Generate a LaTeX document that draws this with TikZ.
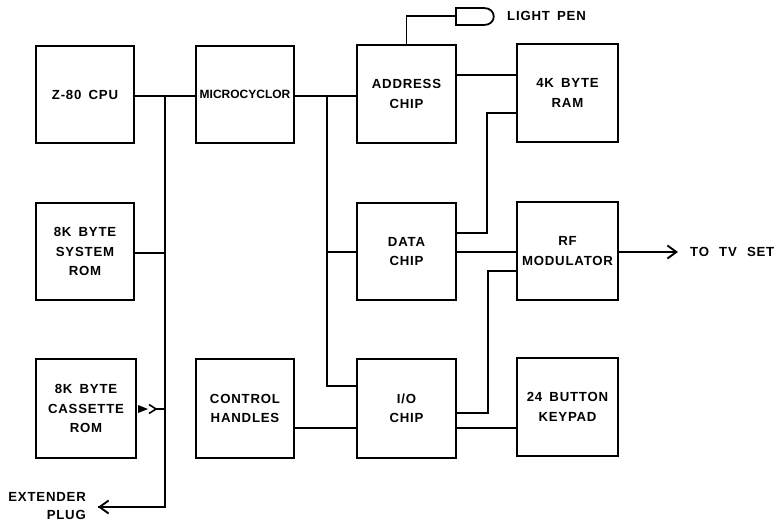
\documentclass[tikz,border=0pt]{standalone}
\usepackage{fontspec}
\setmainfont{Liberation Sans}[LetterSpace=6,WordSpace=1.6]
\newfontfamily\tightfont{Liberation Sans}
\usetikzlibrary{arrows.meta,calc}
\tikzset{
  blk/.style={draw,line width=1.9pt,minimum width=#1,inner sep=0pt,align=center,font=\fontsize{13.2}{19.5}\selectfont\bfseries},
  wire/.style={line width=1.8pt,line join=miter},
  lbl/.style={inner sep=0pt,align=center,font=\fontsize{13.2}{19.5}\selectfont\bfseries},
  openarrow/.style={-{Straight Barb[length=9pt,width=13pt,line width=1.9pt]}}
}
\newcommand{\blkat}[6]{\node[blk=#4,minimum height=#5] (#1) at (#2,#3) {#6};}
\begin{document}
\begin{tikzpicture}[x=1pt,y=-1pt]
\useasboundingbox (0,0) rectangle (778,523);
\blkat{cpu}{85}{94.5}{98pt}{97pt}{Z-80 CPU}
\blkat{sysrom}{85}{251.5}{98pt}{97pt}{8K BYTE\\SYSTEM\\ROM}
\blkat{casrom}{86}{408.5}{100pt}{99pt}{8K BYTE\\CASSETTE\\ROM}
\blkat{micro}{245}{94.5}{98pt}{97pt}{{\tightfont\fontsize{12}{20}\selectfont\bfseries MICROCYCLOR}}
\blkat{handles}{245}{408.5}{98pt}{99pt}{CONTROL\\HANDLES}
\blkat{addr}{406.5}{94}{99pt}{98pt}{ADDRESS\\CHIP}
\blkat{data}{406.5}{251.5}{99pt}{97pt}{DATA\\CHIP}
\blkat{io}{406.5}{408.5}{99pt}{99pt}{I/O\\CHIP}
\blkat{ram}{567.5}{93}{101pt}{98pt}{4K BYTE\\RAM}
\blkat{rf}{567.5}{251}{101pt}{98pt}{RF\\MODULATOR}
\blkat{keypad}{567.5}{407}{101pt}{98pt}{24 BUTTON\\KEYPAD}
\node[lbl,anchor=west] (pen) at (507,16) {LIGHT PEN};
\node[lbl,anchor=west] (tv) at (690,252) {TO\hspace{3pt} TV\hspace{3pt} SET};
\node[lbl,anchor=east] (ext) at (86,497) {EXTENDER};
\node[lbl,anchor=east] (plug) at (86,515) {PLUG};
% light pen
\coordinate (penL) at (456,16);
\draw[wire] (456,8) -- (484,8) .. controls (497,8) and (497,25) .. (484,25) -- (456,25) -- cycle;
\draw[wire] (addr.north) -- (addr.north |- penL) -- (penL);
% bus
\coordinate (busTop) at (165,96);
\coordinate (busSys) at (165,253);
\coordinate (busCas) at (165,409);
\coordinate (busEnd) at (165,507);
\coordinate (extTip) at (98,507);
\draw[wire] (cpu.east |- busTop) -- (micro.west |- busTop);
\draw[wire] (busTop) -- (busEnd) -- (extTip);
\draw[wire,openarrow] (busEnd) -- (extTip);
\draw[wire] (sysrom.east |- busSys) -- (busSys);
% cassette connector
\coordinate (chev) at (155,409);
\draw[wire] (chev) -- (busCas);
\fill (138,405) -- (148,409) -- (138,413) -- cycle;
\draw[line width=1.6pt] (149,404.5) -- (156,409) -- (149,413.5);
% main trunk
\coordinate (trunkTop) at (327,96);
\coordinate (trunkData) at (327,252);
\coordinate (trunkIO) at (327,386);
\draw[wire] (micro.east |- trunkTop) -- (addr.west |- trunkTop);
\draw[wire] (trunkTop) -- (trunkIO) -- (io.west |- trunkIO);
\draw[wire] (trunkData) -- (data.west |- trunkData);
% right
\coordinate (ramA) at (517,75);
\draw[wire] (addr.east |- ramA) -- (ramA);
\coordinate (ramD) at (517,113);
\coordinate (dataR) at (487,233);
\draw[wire] (data.east |- dataR) -- (dataR) -- (dataR |- ramD) -- (ramD);
\coordinate (rfD) at (517,252);
\draw[wire] (data.east |- rfD) -- (rfD);
\coordinate (rfI) at (517,271);
\coordinate (ioR) at (488,413);
\draw[wire] (io.east |- ioR) -- (ioR) -- (ioR |- rfI) -- (rfI);
\coordinate (rowK) at (0,428);
\draw[wire] (handles.east |- rowK) -- (io.west |- rowK);
\draw[wire] (io.east |- rowK) -- (keypad.west |- rowK);
\coordinate (tvTip) at (678,252);
\draw[wire,openarrow] (rf.east |- tvTip) -- (tvTip);
\end{tikzpicture}
\end{document}
